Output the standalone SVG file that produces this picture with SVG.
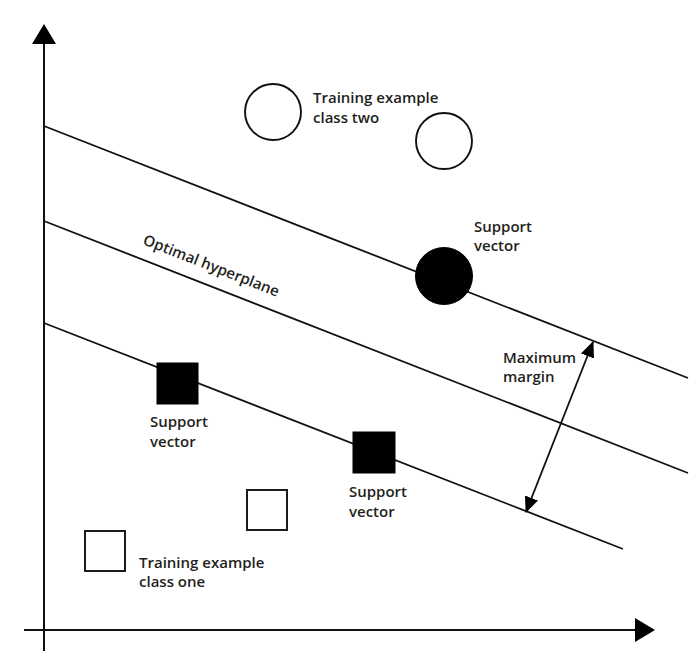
<svg xmlns="http://www.w3.org/2000/svg" width="696" height="666" viewBox="0 0 696 666">
  <style>
    .axis { stroke: #111; stroke-width: 2; fill: none; }
    .line { stroke: #111; stroke-width: 1.8; fill: none; }
    .open { fill: #fff; stroke: #111; stroke-width: 1.9; }
    .solid { fill: #000; stroke: #000; stroke-width: 1; }
    .label { font-family: "Open Sans", "Noto Sans", sans-serif; font-weight: 600; font-size: 15px; fill: #231f20; }
  </style>
  <defs>
    <marker id="axisHead" viewBox="0 0 20 24" refX="2" refY="12" markerWidth="20" markerHeight="24" markerUnits="userSpaceOnUse" orient="auto">
      <path d="M0,0 L20,12 L0,24 Z" fill="#000"/>
    </marker>
    <marker id="marginHead" viewBox="0 0 16 14" refX="15" refY="7" markerWidth="16" markerHeight="14" markerUnits="userSpaceOnUse" orient="auto-start-reverse">
      <path d="M0,0 L16,7 L0,14 Z" fill="#000"/>
    </marker>
  </defs>
  <rect width="696" height="666" fill="#fff"/>

  <!-- axes -->
  <g id="axes">
    <line class="axis" x1="44" y1="651" x2="44" y2="42" marker-end="url(#axisHead)"/>
    <line class="axis" x1="24" y1="630" x2="637" y2="630" marker-end="url(#axisHead)"/>
  </g>

  <!-- hyperplane and margin boundaries, plus the margin arrow -->
  <g id="connectors">
    <line class="line" x1="44" y1="126" x2="688" y2="378"/>
    <line class="line" x1="44" y1="221" x2="688" y2="473"/>
    <line class="line" x1="44" y1="323" x2="623" y2="549"/>
    <line class="line" x1="593" y1="342" x2="526" y2="512" marker-start="url(#marginHead)" marker-end="url(#marginHead)"/>
  </g>

  <g id="class-two-a"><circle class="open" cx="273" cy="112" r="28"/></g>
  <g id="class-two-b"><circle class="open" cx="444" cy="141" r="28"/></g>
  <g id="class-two-label">
    <text class="label" x="313" y="103">Training example</text>
    <text class="label" x="313" y="123">class two</text>
  </g>

  <g id="support-circle"><circle class="solid" cx="444" cy="276" r="28.5"/></g>
  <g id="support-circle-label">
    <text class="label" x="474" y="232">Support</text>
    <text class="label" x="474" y="251">vector</text>
  </g>

  <g id="hyperplane-label">
    <text class="label" transform="translate(142,244) rotate(21.4)">Optimal hyperplane</text>
  </g>

  <g id="margin-label">
    <text class="label" x="503" y="363">Maximum</text>
    <text class="label" x="503" y="382">margin</text>
  </g>

  <g id="support-square-a"><rect class="solid" x="157" y="363" width="41" height="41"/></g>
  <g id="support-square-a-label">
    <text class="label" x="150" y="427">Support</text>
    <text class="label" x="150" y="447">vector</text>
  </g>

  <g id="support-square-b"><rect class="solid" x="353" y="432" width="42" height="41"/></g>
  <g id="support-square-b-label">
    <text class="label" x="349" y="497">Support</text>
    <text class="label" x="349" y="517">vector</text>
  </g>

  <g id="class-one-a"><rect class="open" x="247" y="490" width="40" height="40"/></g>
  <g id="class-one-b"><rect class="open" x="85" y="531" width="40" height="40"/></g>
  <g id="class-one-label">
    <text class="label" x="139" y="568">Training example</text>
    <text class="label" x="139" y="587">class one</text>
  </g>
</svg>
